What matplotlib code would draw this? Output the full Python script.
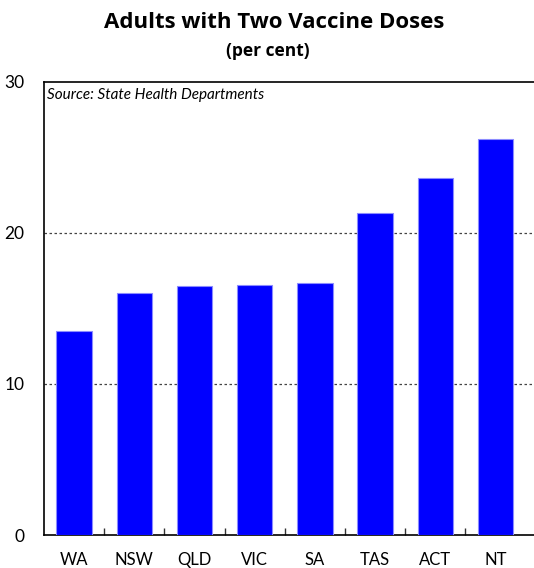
import matplotlib
matplotlib.use("Agg")
import matplotlib.pyplot as plt

states = ["WA", "NSW", "QLD", "VIC", "SA", "TAS", "ACT", "NT"]
values = [13.5, 16.0, 16.5, 16.55, 16.65, 21.3, 23.6, 26.2]
yticks = [0, 10, 20, 30]

plt.rcParams['font.family'] = ['Lato', 'DejaVu Sans']

fig = plt.figure(figsize=(5.34, 5.68), dpi=100)
W, H = 534, 568
left, right, bottom, top = 44, 534, 535, 81.5
ax = fig.add_axes([left / W, 1 - bottom / H, (right - left) / W, (bottom - top) / H])

x = list(range(len(states)))
ax.bar(x, values, width=0.59, color="#0000ff", edgecolor="#8c8cff", linewidth=0.8, zorder=3)

cat_w = 60.2
ax.set_xlim(-0.5, -0.5 + (right - left) / cat_w)
ax.set_ylim(0, 30)
ax.set_yticks(yticks)
ax.set_yticklabels([str(v) for v in yticks], fontsize=12.5)
ax.tick_params(axis="y", length=0, pad=14)

ax.set_xticks([i + 0.5 for i in range(len(states) - 1)])
ax.set_xticklabels([])
ax.set_xticks(x, minor=True)
ax.set_xticklabels(states, minor=True, fontsize=12)
ax.tick_params(axis="x", which="major", direction="in", length=5, width=1, color="#333333")
ax.tick_params(axis="x", which="minor", length=0, pad=12)

for g in [10, 20]:
    ax.axhline(g, color="#444444", linestyle=(0, (2, 2)), linewidth=0.9, zorder=1)

for s in ["left", "top", "bottom"]:
    ax.spines[s].set_linewidth(1.2)
    ax.spines[s].set_color("black")
ax.spines["right"].set_visible(False)

ax.text(0.006, 0.985, "Source: State Health Departments", transform=ax.transAxes,
        ha="left", va="top", fontsize=11, style="italic")

fig.text(274 / W, 1 - 23 / H, "Adults with Two Vaccine Doses", ha="center", va="center",
         fontsize=16, fontweight="bold", family=["Open Sans", "DejaVu Sans"])
fig.text(268 / W, 1 - 51 / H, "(per cent)", ha="center", va="center",
         fontsize=12.5, fontweight="bold", family=["Open Sans", "DejaVu Sans"])

fig.savefig("out.png", dpi=100)
